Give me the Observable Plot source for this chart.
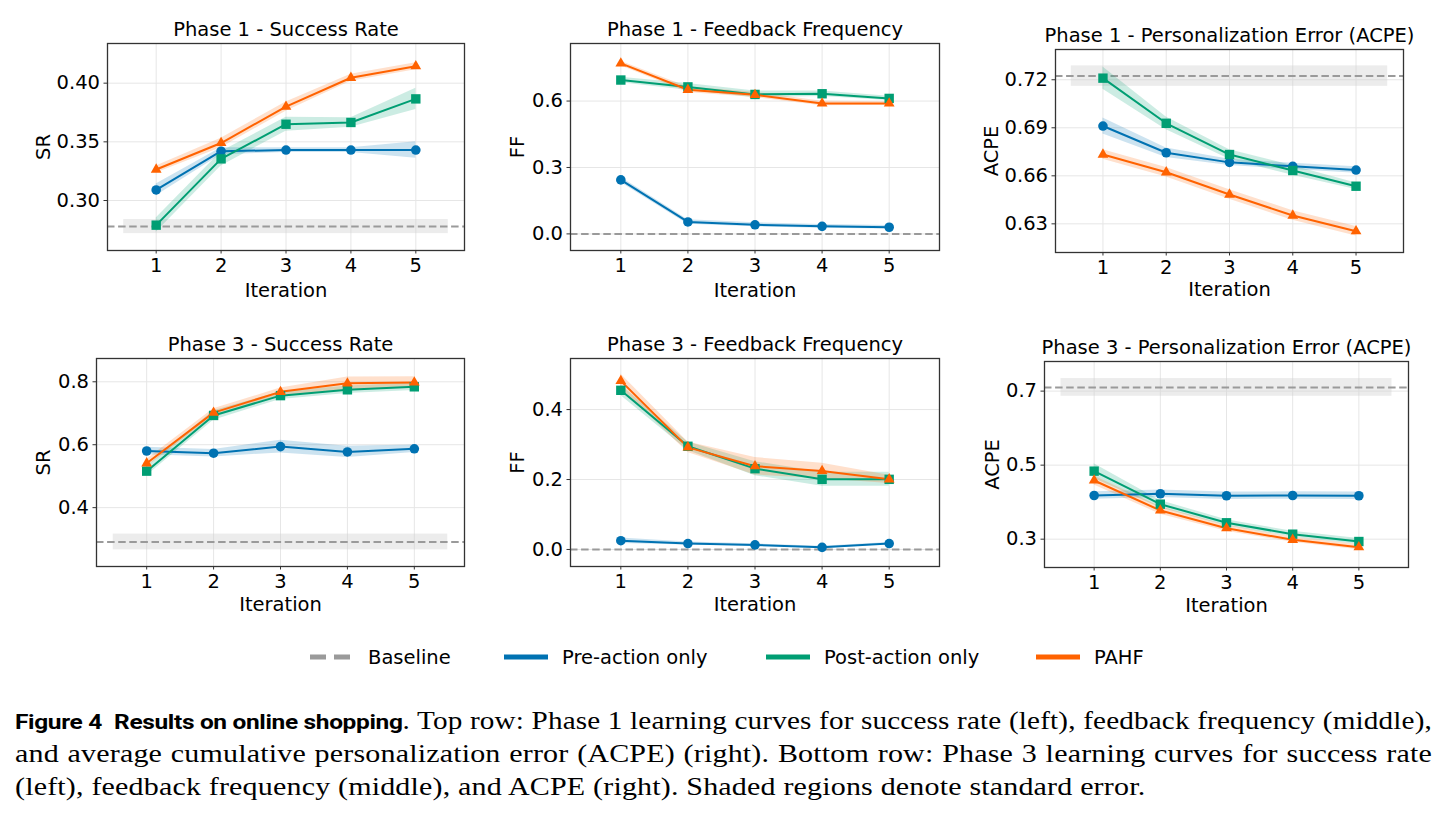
<!DOCTYPE html>
<html>
<head>
<meta charset="utf-8">
<script src="https://cdn.jsdelivr.net/npm/d3@7"></script>
<script src="https://cdn.jsdelivr.net/npm/@observablehq/plot@0.6"></script>
<style>
  html, body { margin: 0; padding: 0; background: #fff; }
  body { width: 1449px; height: 816px; position: relative; overflow: hidden; font-family: "DejaVu Sans", sans-serif; color: #000; }
  .panel { position: absolute; }
  .legend-item { position: absolute; top: 645px; height: 24px; display: flex; align-items: center; font-size: 19.5px; }
  .legend-item svg { display: block; margin-right: 14px; }
  #caption { position: absolute; left: 15px; top: 704px; font-family: "Liberation Serif", serif; font-size: 25px; letter-spacing: 0.15px; }
  .cl { height: 33px; line-height: 33px; white-space: nowrap; }
  .cl > span.t { display: inline-block; transform-origin: 0 0; }
  .fig { font-family: Roboto, sans-serif; font-weight: 700; font-size: 21px; letter-spacing: -0.3px; }
</style>
</head>
<body>
<div id="legend"></div>
<div id="caption">
  <div class="cl" data-justify="1"><span class="t"><span class="fig">Figure 4&ensp;Results on online shopping</span>. Top row: Phase 1 learning curves for success rate (left), feedback frequency (middle),</span></div>
  <div class="cl" data-justify="1"><span class="t">and average cumulative personalization error (ACPE) (right). Bottom row: Phase 3 learning curves for success rate</span></div>
  <div class="cl" data-justify="0"><span class="t">(left), feedback frequency (middle), and ACPE (right). Shaded regions denote standard error.</span></div>
</div>
<script>
// ---- data ---------------------------------------------------------------
const iterations = [1, 2, 3, 4, 5];
const methods = ["Pre-action only", "Post-action only", "PAHF"];
const legendLabels = ["Baseline", "Pre-action only", "Post-action only", "PAHF"];

// Phase 1 - success rate (mean, standard error)
const p1SrPre = [0.309, 0.342, 0.343, 0.343, 0.343];
const p1SrPreSe = [0.005, 0.003, 0.002, 0.002, 0.007];
const p1SrPost = [0.279, 0.3355, 0.365, 0.3665, 0.3866];
const p1SrPostSe = [0.006, 0.006, 0.006, 0.004, 0.009];
const p1SrPahf = [0.3264, 0.349, 0.380, 0.4046, 0.4145];
const p1SrPahfSe = [0.003, 0.004, 0.004, 0.003, 0.003];
const p1SrBaseline = [0.2778, 0.006];

// Phase 1 - feedback frequency
const p1FfPre = [0.244, 0.054, 0.041, 0.034, 0.030];
const p1FfPreSe = [0.012, 0.010, 0.009, 0.009, 0.008];
const p1FfPost = [0.695, 0.664, 0.630, 0.633, 0.612];
const p1FfPostSe = [0.012, 0.015, 0.015, 0.012, 0.010];
const p1FfPahf = [0.770, 0.651, 0.628, 0.589, 0.589];
const p1FfPahfSe = [0.010, 0.012, 0.012, 0.010, 0.008];
const p1FfBaseline = [0.0, 0.0];

// Phase 1 - personalization error (ACPE)
const p1AcpePre = [0.6911, 0.6744, 0.6684, 0.6659, 0.6636];
const p1AcpePreSe = [0.005, 0.003, 0.002, 0.002, 0.002];
const p1AcpePost = [0.7210, 0.6928, 0.6733, 0.6633, 0.6535];
const p1AcpePostSe = [0.007, 0.004, 0.003, 0.003, 0.002];
const p1AcpePahf = [0.6733, 0.6622, 0.6483, 0.6352, 0.6254];
const p1AcpePahfSe = [0.003, 0.003, 0.003, 0.003, 0.003];
const p1AcpeBaseline = [0.7223, 0.0064];

// Phase 3 - success rate
const p3SrPre = [0.580, 0.573, 0.594, 0.577, 0.587];
const p3SrPreSe = [0.012, 0.012, 0.020, 0.018, 0.012];
const p3SrPost = [0.516, 0.693, 0.756, 0.7745, 0.784];
const p3SrPostSe = [0.015, 0.015, 0.012, 0.012, 0.012];
const p3SrPahf = [0.541, 0.702, 0.768, 0.795, 0.798];
const p3SrPahfSe = [0.012, 0.012, 0.012, 0.020, 0.018];
const p3SrBaseline = [0.291, 0.025];

// Phase 3 - feedback frequency
const p3FfPre = [0.025, 0.017, 0.013, 0.006, 0.017];
const p3FfPreSe = [0.008, 0.004, 0.003, 0.003, 0.003];
const p3FfPost = [0.455, 0.295, 0.231, 0.2005, 0.2005];
const p3FfPostSe = [0.015, 0.012, 0.020, 0.020, 0.020];
const p3FfPahf = [0.482, 0.292, 0.238, 0.2245, 0.2005];
const p3FfPahfSe = [0.020, 0.015, 0.025, 0.022, 0.012];
const p3FfBaseline = [0.0, 0.0];

// Phase 3 - personalization error (ACPE)
const p3AcpePre = [0.418, 0.4227, 0.4173, 0.418, 0.4173];
const p3AcpePreSe = [0.010, 0.010, 0.010, 0.010, 0.010];
const p3AcpePost = [0.4838, 0.3946, 0.3443, 0.3135, 0.2937];
const p3AcpePostSe = [0.020, 0.010, 0.008, 0.008, 0.008];
const p3AcpePahf = [0.4586, 0.3776, 0.3297, 0.2984, 0.2784];
const p3AcpePahfSe = [0.012, 0.010, 0.008, 0.007, 0.007];
const p3AcpeBaseline = [0.710, 0.024];

// ---- styling ------------------------------------------------------------
const colors = ["#0072B2", "#009E73", "#FF6200"];
const symbols = ["circle", "square", "triangle"];
const symbolR = [4.8, 5.3, 4.0];
const baselineColor = "#9a9a9a";
const fontSize = 19.5;

const M = {left: 90, right: 25, top: 40, bottom: 55};

function rows(means, ses) {
  return methods.flatMap((m, k) =>
    iterations.map((it, i) => ({
      iteration: it,
      method: m,
      value: means[k][i],
      lo: means[k][i] - ses[k][i],
      hi: means[k][i] + ses[k][i]
    }))
  );
}

function panel(cfg) {
  const data = rows(cfg.means, cfg.ses);
  const [bMean, bSe] = cfg.baseline;
  const marks = [
    Plot.gridX(iterations, {stroke: "#e6e6e6", strokeOpacity: 1, strokeWidth: 1}),
    Plot.gridY(cfg.yTicks, {stroke: "#e6e6e6", strokeOpacity: 1, strokeWidth: 1})
  ];
  if (bSe > 0) {
    marks.push(Plot.rect([{x1: 0.5, x2: 5.5, y1: bMean - bSe, y2: bMean + bSe}], {
      x1: "x1", x2: "x2", y1: "y1", y2: "y2", fill: "#cfcfcf", fillOpacity: 0.4
    }));
  }
  marks.push(Plot.ruleY([bMean], {stroke: baselineColor, strokeWidth: 2, strokeDasharray: "7.5,3.6"}));
  marks.push(Plot.areaY(data, {x: "iteration", y1: "lo", y2: "hi", z: "method", fill: "method", fillOpacity: 0.2}));
  marks.push(Plot.lineY(data, {x: "iteration", y: "value", z: "method", stroke: "method", strokeWidth: 2}));
  methods.forEach((m, k) => {
    marks.push(Plot.dot(data.filter(d => d.method === m), {
      x: "iteration", y: "value", fill: colors[k], stroke: "none", symbol: symbols[k], r: symbolR[k]
    }));
  });
  marks.push(Plot.frame({stroke: "#333", strokeWidth: 1.3}));
  marks.push(Plot.axisX(iterations, {tickSize: 3.5, tickPadding: 4.5, label: null, fontSize, stroke: "#333"}));
  marks.push(Plot.axisY(cfg.yTicks, {tickSize: 3.5, tickPadding: 4, tickFormat: cfg.yFormat, label: null, fontSize, stroke: "#333"}));
  marks.push(Plot.text([cfg.title], {frameAnchor: "top", dy: -14, text: d => d, fontSize, lineAnchor: "middle", fill: "#000"}));
  marks.push(Plot.text([cfg.ylabel], {frameAnchor: "left", dx: -cfg.ylabelOffset, rotate: -90, text: d => d, fontSize, lineAnchor: "middle", textAnchor: "middle", fill: "#000"}));
  marks.push(Plot.text(["Iteration"], {frameAnchor: "bottom", dy: cfg.xlabelDy, text: d => d, fontSize, lineAnchor: "middle", fill: "#000"}));

  const svg = Plot.plot({
    width: cfg.frame[2] + M.left + M.right,
    height: cfg.frame[3] + M.top + M.bottom,
    marginLeft: M.left, marginRight: M.right, marginTop: M.top, marginBottom: M.bottom,
    x: {domain: [0.25, 5.75]},
    y: {domain: cfg.yDomain},
    color: {domain: methods, range: colors},
    style: {fontFamily: "DejaVu Sans", fontSize: fontSize + "px", color: "#000", background: "transparent", maxWidth: "none", overflow: "visible"},
    marks
  });
  const wrap = document.createElement("div");
  wrap.className = "panel";
  wrap.style.left = (cfg.frame[0] - M.left) + "px";
  wrap.style.top = (cfg.frame[1] - M.top) + "px";
  wrap.appendChild(svg);
  document.body.appendChild(wrap);
}

const panels = [
  {title: "Phase 1 - Success Rate", ylabel: "SR", ylabelOffset: 64, xlabelDy: 40, frame: [107, 43, 357, 207],
   yDomain: [0.2574, 0.4338], yTicks: [0.30, 0.35, 0.40], yFormat: ".2f",
   means: [p1SrPre, p1SrPost, p1SrPahf], ses: [p1SrPreSe, p1SrPostSe, p1SrPahfSe], baseline: p1SrBaseline},
  {title: "Phase 1 - Feedback Frequency", ylabel: "FF", ylabelOffset: 53, xlabelDy: 40, frame: [570, 43, 369, 207],
   yDomain: [-0.075, 0.86], yTicks: [0.0, 0.3, 0.6], yFormat: ".1f",
   means: [p1FfPre, p1FfPost, p1FfPahf], ses: [p1FfPreSe, p1FfPostSe, p1FfPahfSe], baseline: p1FfBaseline},
  {title: "Phase 1 - Personalization Error (ACPE)", ylabel: "ACPE", ylabelOffset: 64, xlabelDy: 37.5, frame: [1055, 49, 348, 203],
   yDomain: [0.6121, 0.7389], yTicks: [0.63, 0.66, 0.69, 0.72], yFormat: ".2f",
   means: [p1AcpePre, p1AcpePost, p1AcpePahf], ses: [p1AcpePreSe, p1AcpePostSe, p1AcpePahfSe], baseline: p1AcpeBaseline},
  {title: "Phase 3 - Success Rate", ylabel: "SR", ylabelOffset: 53, xlabelDy: 38, frame: [96, 358, 368, 208],
   yDomain: [0.213, 0.874], yTicks: [0.4, 0.6, 0.8], yFormat: ".1f",
   means: [p3SrPre, p3SrPost, p3SrPahf], ses: [p3SrPreSe, p3SrPostSe, p3SrPahfSe], baseline: p3SrBaseline},
  {title: "Phase 3 - Feedback Frequency", ylabel: "FF", ylabelOffset: 53, xlabelDy: 38, frame: [570, 358, 369, 208],
   yDomain: [-0.0487, 0.546], yTicks: [0.0, 0.2, 0.4], yFormat: ".1f",
   means: [p3FfPre, p3FfPost, p3FfPahf], ses: [p3FfPreSe, p3FfPostSe, p3FfPahfSe], baseline: p3FfBaseline},
  {title: "Phase 3 - Personalization Error (ACPE)", ylabel: "ACPE", ylabelOffset: 52, xlabelDy: 38, frame: [1044, 361, 364, 206],
   yDomain: [0.2235, 0.780], yTicks: [0.3, 0.5, 0.7], yFormat: ".1f",
   means: [p3AcpePre, p3AcpePost, p3AcpePahf], ses: [p3AcpePreSe, p3AcpePostSe, p3AcpePahfSe], baseline: p3AcpeBaseline}
];
panels.forEach(panel);

// ---- shared legend ------------------------------------------------------
const legendLeft = [310, 504, 766, 1036];
const legendStroke = [baselineColor, ...colors];
const legend = document.getElementById("legend");
legendLabels.forEach((label, i) => {
  const item = document.createElement("div");
  item.className = "legend-item";
  item.style.left = legendLeft[i] + "px";
  const dash = i === 0 ? ' stroke-dasharray="16,8"' : "";
  item.innerHTML = `<svg width="44" height="10"><line x1="0" x2="44" y1="5" y2="5" stroke="${legendStroke[i]}" stroke-width="5"${dash}/></svg><span>${label}</span>`;
  legend.appendChild(item);
});

// ---- caption: widened serif, full lines justified to the text block -----
const captionWidth = 1417;
const captionScale = 1.2;
document.querySelectorAll("#caption .cl").forEach(line => {
  const span = line.querySelector(".t");
  const w = span.getBoundingClientRect().width;
  let scale = captionScale;
  if (line.dataset.justify === "1") {
    if (w * scale < captionWidth) {
      const spaces = (span.textContent.match(/ /g) || []).length;
      span.style.wordSpacing = ((captionWidth / scale - w) / spaces) + "px";
    } else {
      scale = captionWidth / w;
    }
  }
  span.style.transform = `scaleX(${scale})`;
});
</script>
</body>
</html>
